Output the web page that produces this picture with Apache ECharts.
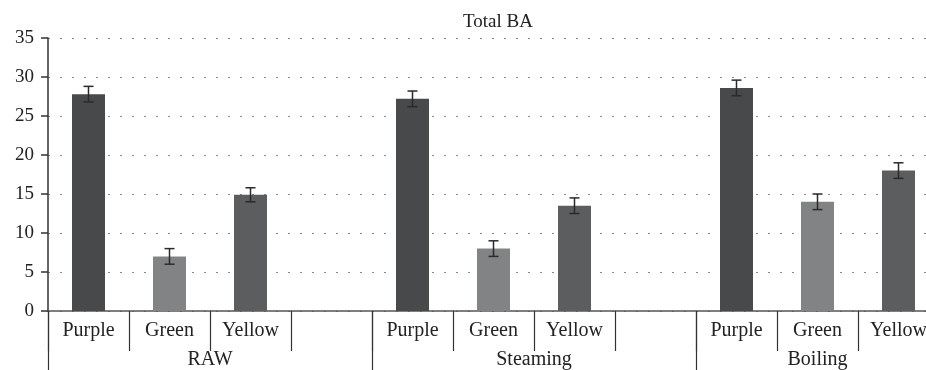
<!DOCTYPE html>
<html><head><meta charset="utf-8">
<script src="https://cdn.jsdelivr.net/npm/echarts@6/dist/echarts.min.js"></script>
<style>html,body{margin:0;padding:0;background:#fff}#c{width:926px;height:370px}</style>
</head><body><div id="c"></div>
<script>
const categories = ['Purple','Green','Yellow','','Purple','Green','Yellow','','Purple','Green','Yellow'];
const groups = ['RAW','Steaming','Boiling'];
const groupCenters = [2, 6, 9.5];
const groupBounds = [0, 4, 8];
const values = [27.8, 7.0, 14.9, null, 27.2, 8.0, 13.5, null, 28.6, 14.0, 18.0];
const errors = [1.0, 1.0, 0.9, null, 1.0, 1.0, 1.0, null, 1.0, 1.0, 1.0];
const barColors = {Purple:'#48494b', Green:'#828385', Yellow:'#5c5d5f'};
const yTicks = {min:0, max:35, interval:5};

const font = 'Liberation Serif';
const chart = echarts.init(document.getElementById('c'));
const barData = values.map((v,i)=> v==null ? null : {value:v, itemStyle:{color:barColors[categories[i]]}});
const errData = values.map((v,i)=> v==null ? null : [i, v-errors[i], v+errors[i]]).filter(d=>d);

chart.setOption({
  animation:false,
  title:{text:'Total BA', left:493, textAlign:'center', top:8, textStyle:{fontFamily:font, fontSize:19, fontWeight:'normal', color:'#222'}},
  grid:{left:48, width:891, top:38, bottom:59, outerBoundsMode:'none', containLabel:false},
  xAxis:[{
    type:'category', data:categories, position:'bottom',
    axisLine:{lineStyle:{color:'#555', width:1.5}},
    axisTick:{show:true, length:40, lineStyle:{color:'#333', width:1.2}},
    axisLabel:{fontFamily:font, fontSize:20, color:'#222', margin:10, interval:0}
  },{
    type:'value', min:0, max:11, position:'bottom',
    axisLine:{show:false},
    splitLine:{show:false},
    axisTick:{show:true, customValues:groupBounds, length:62, lineStyle:{color:'#333', width:1.2}},
    axisLabel:{customValues:groupCenters, formatter:(v)=>groups[groupCenters.indexOf(v)], fontFamily:font, fontSize:20, color:'#222', margin:39}
  }],
  yAxis:{
    type:'value', min:yTicks.min, max:yTicks.max, interval:yTicks.interval,
    axisLine:{show:true, lineStyle:{color:'#333', width:1.5}},
    axisTick:{show:true, length:7, lineStyle:{color:'#333', width:1.5}},
    axisLabel:{fontFamily:font, fontSize:19, color:'#222', margin:14},
    splitLine:{show:true, lineStyle:{color:'#888', type:[2,10], width:1.2}}
  },
  series:[{
    type:'bar', data:barData, barWidth:33, xAxisIndex:0
  },{
    type:'custom', xAxisIndex:0, data:errData, z:5,
    renderItem:function(params, api){
      const x = api.value(0);
      const lo = api.coord([x, api.value(1)]);
      const hi = api.coord([x, api.value(2)]);
      const w = 5;
      const st = {stroke:'#2a2a2a', lineWidth:1.5};
      return {type:'group', children:[
        {type:'line', shape:{x1:lo[0], y1:lo[1], x2:hi[0], y2:hi[1]}, style:st},
        {type:'line', shape:{x1:lo[0]-w, y1:lo[1], x2:lo[0]+w, y2:lo[1]}, style:st},
        {type:'line', shape:{x1:hi[0]-w, y1:hi[1], x2:hi[0]+w, y2:hi[1]}, style:st}
      ]};
    }
  }]
});
</script>
</body></html>
